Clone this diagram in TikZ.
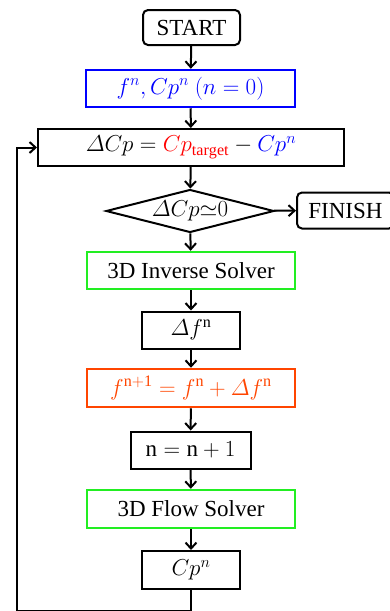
\RequirePackage{fix-cm}
\documentclass[tikz,border=0pt]{standalone}
\usepackage{amsmath}
\usepackage{fontspec}
\setmainfont{Liberation Serif}
\usetikzlibrary{arrows.meta,shapes.geometric}
\definecolor{solver}{HTML}{22EE22}
\definecolor{update}{HTML}{FF4500}
\definecolor{initc}{HTML}{0000FF}
\definecolor{target}{HTML}{FF0000}
\tikzset{
  box/.style={draw,line width=2pt,inner sep=0pt,align=center},
  term/.style={box,rounded corners=5pt,minimum width=97,minimum height=35},
  flow/.style={line width=2pt,-{Straight Barb[length=6pt,width=11pt,line width=2pt]}}
}

\begin{document}
\begin{tikzpicture}[x=1pt,y=-1pt,font=\fontsize{23}{27}\selectfont]
    \useasboundingbox (0,0) rectangle (390,611);
    \node[term] (start) at (191.5,27.5) {START};
    \node[box,draw=initc,line width=2.5pt,text=initc,minimum width=209,minimum height=37]
      (init) at (190.5,88.5) {$f^{n},Cp^{n}\ (n=0)$};
    \node[box,minimum width=306,minimum height=37] (diff) at (191,147.5)
      {$\varDelta Cp = {\color{target}Cp_{\mathrm{target}}} - {\color{initc}Cp^{n}}$};
    \node[box,shape=diamond,aspect=3.9,minimum width=168,minimum height=43]
      (check) at (190,211) {$\varDelta Cp{\simeq}0$};
    \node[term,minimum height=36] (finish) at (345.5,210.5) {FINISH};
    \node[box,draw=solver,line width=2.5pt,minimum width=208,minimum height=37]
      (inv) at (191,270.5) {3D Inverse Solver};
    \node[box,minimum width=98,minimum height=37] (df) at (191,330)
      {$\varDelta f^{\mathrm{n}}$};
    \node[box,draw=update,line width=2.5pt,text=update,minimum width=208,minimum height=38]
      (upd) at (191,388) {$f^{\mathrm{n+1}} = f^{\mathrm{n}} + \varDelta f^{\mathrm{n}}$};
    \node[box,minimum width=120,minimum height=37] (inc) at (190.5,450)
      {$\mathrm{n} = \mathrm{n} + 1$};
    \node[box,draw=solver,line width=2.5pt,minimum width=208,minimum height=38]
      (flw) at (191,509) {3D Flow Solver};
    \node[box,minimum width=98,minimum height=38] (cpn) at (191,570) {$Cp^{n}$};
    \coordinate (back) at (17,611);
    % main chain
    \draw[flow] (start) -- (init);
    \draw[flow] (init) -- (diff);
    \draw[flow] (diff) -- (check);
    \draw[flow] (check) -- (finish);
    \draw[flow] (check) -- (inv);
    \draw[flow] (inv) -- (df);
    \draw[flow] (df) -- (upd);
    \draw[flow] (upd) -- (inc);
    \draw[flow] (inc) -- (flw);
    \draw[flow] (flw) -- (cpn);
    % iteration loop
    \draw[flow] (cpn.south) |- (back) |- (diff.west);
  \end{tikzpicture}
\end{document}
